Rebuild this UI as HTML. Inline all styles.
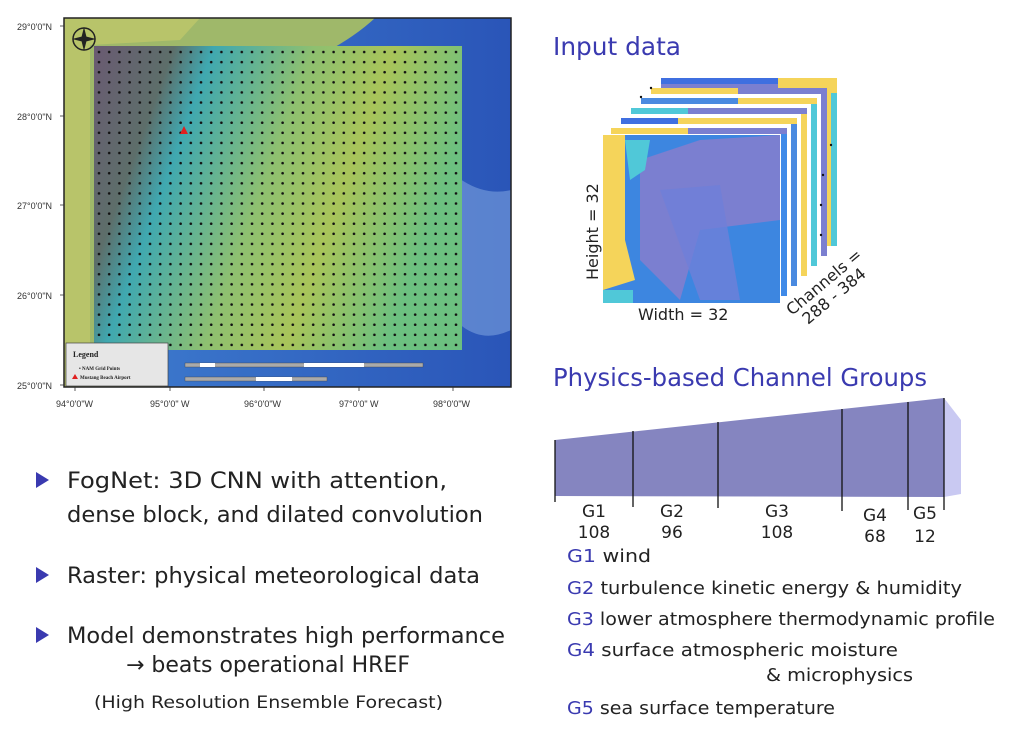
<!DOCTYPE html>
<html><head><meta charset="utf-8"><style>
body{margin:0;background:#fff;width:1015px;height:733px;overflow:hidden;font-family:"DejaVu Sans","Liberation Sans",sans-serif;}
svg{position:absolute;left:0;top:0}
</style></head><body>
<svg width="1015" height="733" viewBox="0 0 1015 733" xmlns="http://www.w3.org/2000/svg">
<defs>
<linearGradient id="ocean" x1="0" y1="0" x2="1" y2="0">
<stop offset="0" stop-color="#3f7fd0"/><stop offset="1" stop-color="#2a55b8"/></linearGradient>
<linearGradient id="grid" x1="0" y1="0" x2="1" y2="0.3">
<stop offset="0" stop-color="#6a5a72"/><stop offset="0.2" stop-color="#5d6e6a"/>
<stop offset="0.3" stop-color="#3fa8b0"/><stop offset="0.55" stop-color="#8ec070"/>
<stop offset="0.75" stop-color="#a8c45a"/><stop offset="1" stop-color="#6cc080"/></linearGradient>
<pattern id="dots" x="94" y="47" width="10.2" height="10.1" patternUnits="userSpaceOnUse">
<circle cx="5" cy="5" r="1.3" fill="#111"/></pattern>
</defs>
<!-- map -->
<rect x="64" y="18" width="447" height="369" fill="url(#ocean)"/>
<path d="M64 18 L375 18 Q330 60 230 90 Q180 110 170 140 Q160 200 165 300 L165 387 L64 387Z" fill="#9fb86a"/>
<path d="M64 18 L200 18 L180 40 L90 45 L90 387 L64 387Z" fill="#b8c46a"/>
<path d="M430 150 Q470 200 511 190 L511 330 Q470 350 440 300Z" fill="#6f95d8" opacity="0.7"/>
<rect x="94" y="46" width="368" height="304" fill="url(#grid)"/>
<rect x="94" y="46" width="368" height="304" fill="url(#dots)"/>
<rect x="64" y="18" width="447" height="369" fill="none" stroke="#222" stroke-width="1.5"/>
<circle cx="84" cy="39" r="11" fill="none" stroke="#222" stroke-width="1.5"/>
<path d="M84 27 L87 39 L84 51 L81 39Z M72 39 L84 36 L96 39 L84 42Z" fill="#222"/>
<polygon points="184,126 180,134 188,134" fill="#e02020"/>
<rect x="66" y="343" width="102" height="43" fill="#e6e6e6" stroke="#444" stroke-width="0.7"/>
<text x="73" y="357" font-family="Liberation Serif,serif" font-size="8" font-weight="bold" fill="#222">Legend</text>
<text x="79" y="370" font-family="Liberation Serif,serif" font-size="5" font-weight="bold" fill="#222">• NAM Grid Points</text>
<polygon points="75,374 72,379 78,379" fill="#e02020"/>
<text x="80" y="379" font-family="Liberation Serif,serif" font-size="5" font-weight="bold" fill="#222">Mustang Beach Airport</text>
<rect x="185" y="363" width="238" height="4" fill="#aaa" stroke="#444" stroke-width="0.4"/>
<rect x="185" y="377" width="142" height="4" fill="#aaa" stroke="#444" stroke-width="0.4"/>
<rect x="200" y="363" width="15" height="4" fill="#fff"/><rect x="304" y="363" width="60" height="4" fill="#fff"/>
<rect x="256" y="377" width="36" height="4" fill="#fff"/>
<g font-family="Liberation Sans,sans-serif" font-size="9" fill="#333">
<text x="17" y="30">29°0'0"N</text><text x="17" y="120">28°0'0"N</text>
<text x="17" y="209">27°0'0"N</text><text x="17" y="299">26°0'0"N</text><text x="17" y="389">25°0'0"N</text>
<text x="56" y="407">94°0'0"W</text><text x="150" y="407">95°0'0" W</text>
<text x="244" y="407">96°0'0"W</text><text x="339" y="407">97°0'0" W</text><text x="433" y="407">98°0'0"W</text>
</g>
<g stroke="#333" stroke-width="0.8">
<line x1="60" y1="26" x2="64" y2="26"/><line x1="60" y1="116" x2="64" y2="116"/><line x1="60" y1="205" x2="64" y2="205"/><line x1="60" y1="295" x2="64" y2="295"/><line x1="60" y1="385" x2="64" y2="385"/>
<line x1="75" y1="387" x2="75" y2="391"/><line x1="170" y1="387" x2="170" y2="391"/><line x1="264" y1="387" x2="264" y2="391"/><line x1="359" y1="387" x2="359" y2="391"/><line x1="453" y1="387" x2="453" y2="391"/>
</g>

<!-- Input data -->
<text x="553" y="55" font-size="25" fill="#3a3ab0" textLength="128" lengthAdjust="spacingAndGlyphs">Input data</text>
<g>
<g transform="translate(58,-57)"><rect x="603" y="135" width="176" height="168" fill="#7b7fd0"/><rect x="603" y="135" width="176" height="6" fill="#3f6fe0"/><rect x="720" y="135" width="59" height="168" fill="#f5d45a"/><rect x="773" y="150" width="6" height="153" fill="#50c8d8"/></g>
<g transform="translate(48,-47)"><rect x="603" y="135" width="176" height="168" fill="#fff"/><rect x="603" y="135" width="176" height="6" fill="#f5d45a"/><rect x="690" y="135" width="89" height="6" fill="#7b7fd0"/><rect x="773" y="141" width="6" height="162" fill="#7b7fd0"/></g>
<g transform="translate(38,-37)"><rect x="603" y="135" width="176" height="168" fill="#fff"/><rect x="603" y="135" width="176" height="6" fill="#4a8ae0"/><rect x="700" y="135" width="79" height="6" fill="#f5d45a"/><rect x="773" y="141" width="6" height="162" fill="#50c8d8"/></g>
<g transform="translate(28,-27)"><rect x="603" y="135" width="176" height="168" fill="#fff"/><rect x="603" y="135" width="176" height="6" fill="#50c8d8"/><rect x="660" y="135" width="119" height="6" fill="#7b7fd0"/><rect x="773" y="141" width="6" height="162" fill="#f5d45a"/></g>
<g transform="translate(18,-17)"><rect x="603" y="135" width="176" height="168" fill="#fff"/><rect x="603" y="135" width="176" height="6" fill="#3f6fe0"/><rect x="660" y="135" width="119" height="6" fill="#f5d45a"/><rect x="773" y="141" width="6" height="162" fill="#4a8ae0"/></g>
<g transform="translate(8,-7)"><rect x="603" y="135" width="176" height="168" fill="#fff"/><rect x="603" y="135" width="176" height="6" fill="#f5d45a"/><rect x="680" y="135" width="99" height="6" fill="#7b7fd0"/><rect x="773" y="141" width="6" height="162" fill="#3f8ae8"/></g>
<rect x="603" y="135" width="177" height="168" fill="#3d86e0"/>
<path d="M603 135 L625 135 L625 240 L635 280 L603 290Z" fill="#f5d45a"/>
<path d="M640 160 L700 140 L780 135 L780 220 L700 230 L680 300 L640 260Z" fill="#7b7fd0"/>
<path d="M660 190 L720 185 L740 300 L700 300Z" fill="#6f7fd8" opacity="0.8"/>
<rect x="603" y="290" width="30" height="13" fill="#50c8d8"/>
<path d="M625 140 L650 140 L645 170 L630 180Z" fill="#50c8d8"/>
</g>
<g fill="#111"><circle cx="641" cy="97" r="1.2"/><circle cx="651" cy="88" r="1.2"/><circle cx="831" cy="145" r="1.2"/><circle cx="823" cy="175" r="1.2"/><circle cx="821" cy="205" r="1.2"/><circle cx="821" cy="235" r="1.2"/></g>
<text x="598" y="280" font-size="16" fill="#222" transform="rotate(-90 598 280)">Height = 32</text>
<text x="638" y="320" font-size="16" fill="#222">Width = 32</text>
<text x="792" y="316" font-size="16" fill="#222" transform="rotate(-40 792 316)">Channels =</text>
<text x="808" y="325" font-size="16" fill="#222" transform="rotate(-40 808 325)">288 - 384</text>

<!-- Channel groups -->
<text x="553" y="386" font-size="25" fill="#3a3ab0" textLength="374" lengthAdjust="spacingAndGlyphs">Physics-based Channel Groups</text>
<polygon points="944,398 961,420 961,494 944,497" fill="#c9c9f2"/>
<polygon points="555,440 944,398 944,497 555,496" fill="#8585c0"/>
<g stroke="#111" stroke-width="1.3">
<line x1="555" y1="440" x2="555" y2="502"/><line x1="633" y1="431" x2="633" y2="507"/>
<line x1="718" y1="422" x2="718" y2="508"/><line x1="842" y1="409" x2="842" y2="511"/>
<line x1="908" y1="402" x2="908" y2="510"/><line x1="944" y1="398" x2="944" y2="510"/>
</g>
<g font-size="17" fill="#222" text-anchor="middle">
<text x="594" y="517">G1</text><text x="594" y="538">108</text>
<text x="672" y="517">G2</text><text x="672" y="538">96</text>
<text x="777" y="517">G3</text><text x="777" y="538">108</text>
<text x="875" y="521">G4</text><text x="875" y="542">68</text>
<text x="925" y="519">G5</text><text x="925" y="542">12</text>
</g>
<g font-size="18" fill="#222" lengthAdjust="spacingAndGlyphs">
<text x="567" y="562" textLength="84" lengthAdjust="spacingAndGlyphs"><tspan fill="#3a3ab0">G1</tspan>  wind</text>
<text x="567" y="594" textLength="395" lengthAdjust="spacingAndGlyphs"><tspan fill="#3a3ab0">G2</tspan>  turbulence kinetic energy &amp; humidity</text>
<text x="567" y="625" textLength="428" lengthAdjust="spacingAndGlyphs"><tspan fill="#3a3ab0">G3</tspan>  lower atmosphere thermodynamic profile</text>
<text x="567" y="656" textLength="331" lengthAdjust="spacingAndGlyphs"><tspan fill="#3a3ab0">G4</tspan>  surface atmospheric moisture</text>
<text x="766" y="681" textLength="147" lengthAdjust="spacingAndGlyphs">&amp; microphysics</text>
<text x="567" y="714" textLength="268" lengthAdjust="spacingAndGlyphs"><tspan fill="#3a3ab0">G5</tspan>  sea surface temperature</text>
</g>

<!-- bullets -->
<g fill="#3a3ab0">
<polygon points="36,472 36,488 49,480"/><polygon points="36,567 36,583 49,575"/><polygon points="36,627 36,643 49,635"/>
</g>
<g font-size="22" fill="#222">
<text x="67" y="488" textLength="380" lengthAdjust="spacingAndGlyphs">FogNet: 3D CNN with attention,</text>
<text x="67" y="522" textLength="416" lengthAdjust="spacingAndGlyphs">dense block, and dilated convolution</text>
<text x="67" y="583" textLength="413" lengthAdjust="spacingAndGlyphs">Raster: physical meteorological data</text>
<text x="67" y="643" textLength="438" lengthAdjust="spacingAndGlyphs">Model demonstrates high performance</text>
<text x="126" y="672" textLength="284" lengthAdjust="spacingAndGlyphs">→ beats operational HREF</text>
</g>
<text x="94" y="708" font-size="17" fill="#222" textLength="349" lengthAdjust="spacingAndGlyphs">(High Resolution Ensemble Forecast)</text>
</svg>
</body></html>
